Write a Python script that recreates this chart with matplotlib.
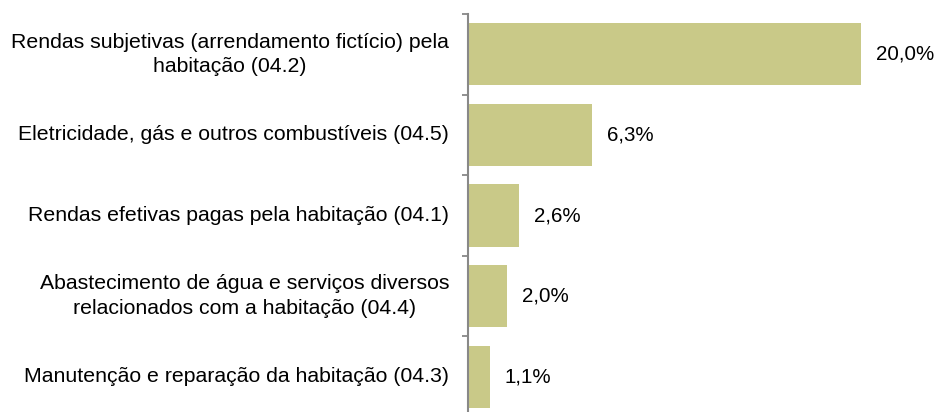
import matplotlib
matplotlib.use('Agg')
import matplotlib.pyplot as plt

# Data (top to bottom)
categories = [
    "Rendas subjetivas (arrendamento fictício) pela\nhabitação (04.2)",
    "Eletricidade, gás e outros combustíveis (04.5)",
    "Rendas efetivas pagas pela habitação (04.1)",
    "Abastecimento de água e serviços diversos\nrelacionados com a habitação (04.4)",
    "Manutenção e reparação da habitação (04.3)",
]
values = [20.0, 6.3, 2.6, 2.0, 1.1]
value_labels = ["20,0%", "6,3%", "2,6%", "2,0%", "1,1%"]

plt.rcParams['font.family'] = ['Liberation Sans', 'DejaVu Sans']

W, H = 940, 412
fig = plt.figure(figsize=(W / 100, H / 100), dpi=100)
left, top, bottom = 468, 14, 417
px_per_unit = 19.65
ax = fig.add_axes([left / W, (H - bottom) / H, (W - left) / W, (bottom - top) / H])

n = len(values)
ypos = list(range(n))
ax.barh(ypos, values, height=0.77, color='#C9C988', edgecolor='none')
ax.set_ylim(n - 0.5, -0.5)
ax.set_xlim(0, (W - left) / px_per_unit)

for y, v, lab in zip(ypos, values, value_labels):
    ax.annotate(lab, xy=(v, y), xytext=(10.8, 0), textcoords='offset points',
                ha='left', va='center', fontsize=14.8)

# category labels centred in bands, ticks on band boundaries
ax.set_yticks([i - 0.5 for i in range(n + 1)])
ax.set_yticklabels([])
ax.tick_params(axis='y', direction='out', length=4.3, width=1.3, color='#888888')
for y, cat in zip(ypos, categories):
    ax.text(-19 / px_per_unit, y, cat, ha='right', va='center', multialignment='center',
            fontsize=15.3, linespacing=1.35)

ax.set_xticks([])
for s in ['top', 'right', 'bottom']:
    ax.spines[s].set_visible(False)
ax.spines['left'].set_color('#888888')
ax.spines['left'].set_linewidth(1.5)

fig.savefig('out.png', dpi=100)
